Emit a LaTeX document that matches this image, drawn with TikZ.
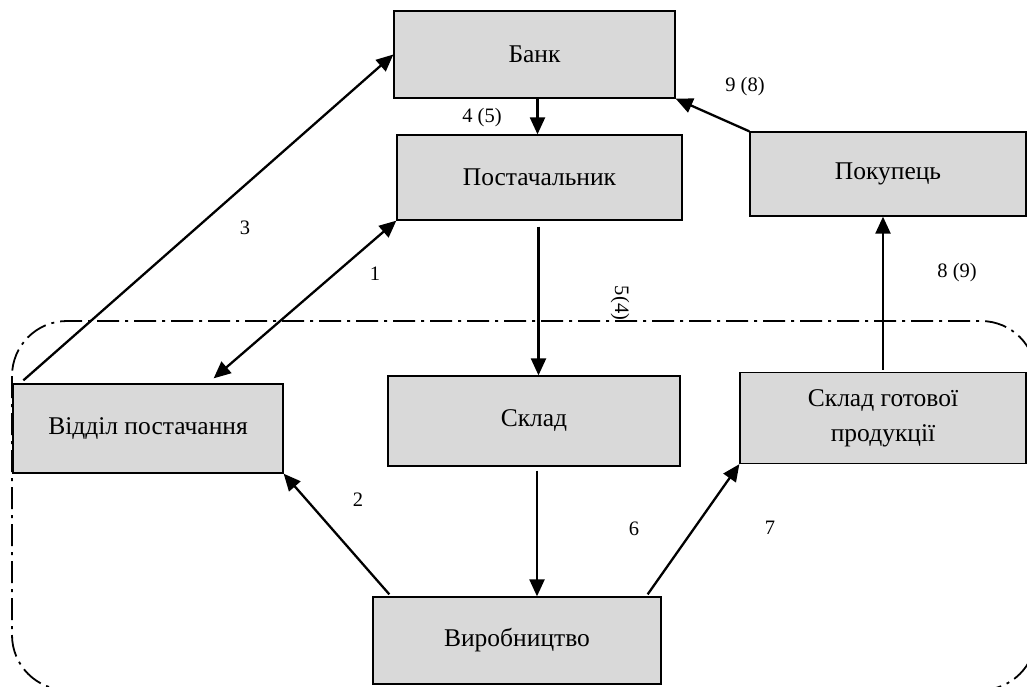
\documentclass[tikz,border=0pt]{standalone}
\usepackage{fontspec}
\setmainfont{Liberation Serif}
\usetikzlibrary{arrows.meta,calc}
\definecolor{boxgray}{HTML}{D9D9D9}
\tikzset{
  blk/.style={draw=black, line width=1.3pt, fill=boxgray, inner sep=0pt, align=center,
    font=\fontsize{25.5}{35}\selectfont},
  arr/.style={line width=2.3pt, -{Triangle[length=17pt,width=15pt]}},
  darr/.style={line width=2.3pt, {Triangle[length=17pt,width=15pt]}-{Triangle[length=17pt,width=15pt]}},
  lbl/.style={font=\fontsize{20.5}{24}\selectfont, inner sep=0pt},
  frame/.style={line width=1.8pt, dash pattern=on 22pt off 6pt on 3pt off 6pt, rounded corners=55pt}
}
\begin{document}
\begin{tikzpicture}[x=1pt,y=-1pt]
\useasboundingbox (0,0) rectangle (1027,686);
\clip (0,0) rectangle (1027,686);
\draw[frame] (12,321) rectangle (1036,690);

\node[blk, minimum width=281pt, minimum height=87pt] (bank) at (534.5,54.5) {Банк};
\node[blk, minimum width=285pt, minimum height=85pt] (post) at (539.5,177.5) {Постачальник};
\node[blk, minimum width=276pt, minimum height=84pt] (pok) at (888,174) {Покупець};
\node[blk, minimum width=270pt, minimum height=89pt] (vid) at (148,428.5) {Відділ постачання};
\node[blk, minimum width=292pt, minimum height=90pt] (skl) at (534,421) {Склад};
\node[blk, minimum width=286pt, minimum height=91pt] (skg) at (883,418) {Склад готової\\продукції};
\node[blk, minimum width=288pt, minimum height=87pt] (vyr) at (517,640.5) {Виробництво};

\draw[arr] ([xshift=11pt,yshift=3pt]vid.north west) -- (bank.west);
\draw[darr] (post.south west) -- ([xshift=-70pt,yshift=5pt]vid.north east);
\draw[arr] ([xshift=3pt]bank.south) -- ([xshift=3pt]bank.south |- post.north);
\draw[arr] (pok.north west) -- (bank.south east);
\draw[arr] ([xshift=-1pt,yshift=-6pt]post.south) -- ([xshift=-1pt]post.south |- skl.north);
\draw[arr] ([xshift=3pt,yshift=-4pt]skl.south) -- ([xshift=3pt]skl.south |- vyr.north);
\draw[arr] ([xshift=17pt,yshift=2pt]vyr.north west) -- (vid.south east);
\draw[arr] ([xshift=-14pt,yshift=2pt]vyr.north east) -- (skg.south west);
\draw[arr] ([yshift=2pt]skg.north) -- (skg.north |- pok.south);

\node[lbl] (l3) at (245,228) {3};
\node[lbl] (l1) at (375,274) {1};
\node[lbl] (l45) at (482,118) {4 (5)};
\node[lbl] (l98) at (745,87) {9 (8)};
\node[lbl, rotate=-90] (l54) at (620,303) {5(4)};
\node[lbl] (l89) at (957,273) {8 (9)};
\node[lbl] (l2) at (358,500) {2};
\node[lbl] (l6) at (634,529) {6};
\node[lbl] (l7) at (770,528) {7};
\end{tikzpicture}
\end{document}
